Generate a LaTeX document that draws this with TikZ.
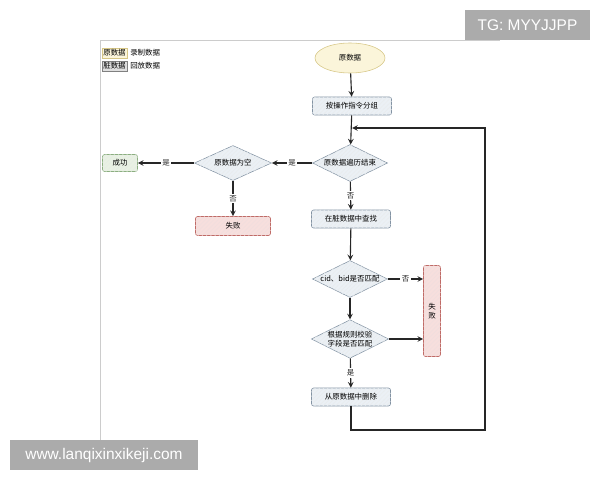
\documentclass[tikz,border=0pt]{standalone}
\usepackage{fontspec}
\setmainfont{Noto Sans CJK SC}
\newfontfamily\wmfont{Liberation Sans}
\usetikzlibrary{shapes.geometric, patterns}

\definecolor{rawfill}{HTML}{FBF5DA}
\definecolor{rawline}{HTML}{D6C685}
\definecolor{stepfill}{HTML}{EBF0F5}
\definecolor{stepline}{HTML}{8393A3}
\definecolor{badfill}{HTML}{F7DFDD}
\definecolor{badline}{HTML}{BF6A66}
\definecolor{goodfill}{HTML}{E9F1E3}
\definecolor{goodline}{HTML}{8BAE80}
\definecolor{wmgrey}{HTML}{ABABAB}

\begin{document}
\begin{tikzpicture}[x=0.025cm, y=-0.025cm,
	font=\fontsize{5.3}{6.6}\selectfont, >=stealth,
	hatch/.style={postaction={pattern=north east lines, pattern color=#1}},
	stepbox/.style={draw=stepline, fill=stepfill, hatch=stepline!18,
		rounded corners=1.5pt, minimum width=1.975cm, minimum height=0.45cm,
		inner sep=0pt},
	badbox/.style={draw=badline, fill=badfill, hatch=badline!22,
		rounded corners=1.5pt, inner sep=0pt},
	test/.style={diamond, aspect=2, draw=stepline, fill=stepfill,
		hatch=stepline!18, inner sep=0pt, align=center,
		minimum width=1.875cm, minimum height=0.925cm},
	lbl/.style={pos=0.5, fill=white, inner sep=1pt}]

\useasboundingbox (0,0) rectangle (600,480);

% frame
\draw [gray!40] (100,440) -- (100,40) -- (500,40);

% legend
\node [draw=rawline, fill=rawfill, minimum width=0.625cm, minimum height=0.25cm,
	inner sep=0pt] (keyraw) at (114.5,53) {原数据};
\node [right, inner sep=0pt] (keyrawtxt) at (130,53) {录制数据};
\node [draw=gray, fill=gray!25, minimum width=0.625cm, minimum height=0.25cm,
	inner sep=0pt] (keydirty) at (114.5,66) {脏数据};
\node [right, inner sep=0pt] (keydirtytxt) at (130,66) {回放数据};

% main column
\node [ellipse, draw=rawline, fill=rawfill, minimum width=1.75cm,
	minimum height=0.75cm] (start) at (350,58) {原数据};
\node [stepbox] (group) at (352,106) {按操作指令分组};
\node [test] (done) at (350,163) {原数据遍历结束};
\node [stepbox] (search) at (351,219) {在脏数据中查找};
\node [test] (idmatch) at (350,279) {cid、bid是否匹配};
\node [test] (rulematch) at (350,339) {根据规则校验\\字段是否匹配};
\node [stepbox] (remove) at (351,397) {从原数据中删除};

% left branch
\node [test, minimum width=1.925cm, minimum height=0.875cm] (empty)
	at (233,163) {原数据为空};
\node [draw=goodline, fill=goodfill, hatch=goodline!22, rounded corners=1.5pt,
	minimum width=0.875cm, minimum height=0.425cm, inner sep=0pt]
	(ok) at (120,163) {成功};
\node [badbox, minimum width=1.875cm, minimum height=0.475cm]
	(failleft) at (233,226) {失败};

% right failure
\node [badbox, minimum width=0.425cm, minimum height=2.275cm, align=center]
	(failright) at (432,311) {失\\败};

\coordinate (loopin) at (352,128);
\coordinate (loopturn) at (485,430);

\draw [thick, black!85, ->] (start) -- (group);
\draw [thick, black!85, ->] (group) -- (done);
\draw [thick, black!85, ->] (done) -- (search)
	node [lbl] {否};
\draw [thick, black!85, ->] (done) -- (empty)
	node [lbl] {是};
\draw [thick, black!85, ->] (empty) -- (ok)
	node [lbl] {是};
\draw [thick, black!85, ->] (empty) -- (failleft)
	node [lbl] {否};
\draw [thick, black!85, ->] (search) -- (idmatch);
\draw [thick, black!85, ->] (idmatch) -- (rulematch);
\draw [thick, black!85, ->] (idmatch.east) -- (idmatch.east -| failright.west)
	node [lbl] {否};
\draw [thick, black!85, ->] (rulematch.east) -- (rulematch.east -| failright.west);
\draw [thick, black!85, ->] (rulematch) -- (remove)
	node [lbl] {是};
\draw [thick, black!85, ->] (remove.south) |- (loopturn) |- (loopin);

% watermarks
\node [fill=wmgrey, text=white, font=\wmfont\fontsize{11}{13}\selectfont,
	minimum width=3.125cm, minimum height=0.75cm] (tg) at (527.5,25)
	{TG: MYYJJPP};
\node [fill=wmgrey, text=white, font=\wmfont\fontsize{11}{13}\selectfont,
	minimum width=4.7cm, minimum height=0.75cm] (site) at (104,455)
	{www.lanqixinxikeji.com};
\end{tikzpicture}
\end{document}
